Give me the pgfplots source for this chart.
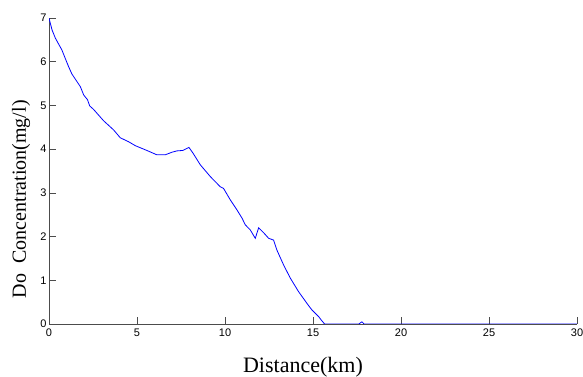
\documentclass[border=0pt]{standalone}
\usepackage{fontspec}
\setmainfont{Liberation Serif}
\newfontfamily\arial{Liberation Sans}
\usepackage{pgfplots}
\pgfplotsset{compat=1.18}
\begin{document}
\begin{tikzpicture}
\begin{axis}[
  at={(0,0)}, anchor=south west,
  scale only axis, width=528pt, height=306pt,
  xmin=0, xmax=30, ymin=0, ymax=7,
  axis lines*=left,
  axis line style={-, draw=black!70, line width=0.8pt},
  xtick={0,5,...,30}, ytick={0,1,...,7},
  tick align=inside,
  major tick length=7pt,
  tick style={black!70, line width=0.6pt},
  /pgf/number format/assume math mode=true,
  tick label style={font=\arial\fontsize{11}{12}\selectfont, text=black},
  xticklabel style={yshift=-1pt},
  yticklabel style={xshift=1pt},
  xlabel={Distance(km)},
  ylabel={Do\ \ Concentration(mg/l)},
  xlabel style={at={(axis description cs:0.481,0)}, anchor=base, yshift=-48.3pt, font=\fontsize{22}{24}\selectfont},
  ylabel style={at={(axis description cs:0,0.408)}, anchor=base, rotate=0, yshift=23pt, font=\fontsize{20}{24}\selectfont},
]
\addplot[blue, line width=0.8pt] coordinates {
(0,7) (0.17,6.73) (0.36,6.54) (0.73,6.27) (1.11,5.89) (1.3,5.72) (1.78,5.43)
(1.97,5.24) (2.19,5.13) (2.31,4.99) (2.53,4.91) (3.1,4.65) (3.67,4.44)
(4.05,4.26) (4.52,4.17) (4.9,4.08) (5.56,3.97) (6.13,3.87) (6.6,3.87)
(6.99,3.93) (7.27,3.96) (7.61,3.97) (7.95,4.04) (8.18,3.91) (8.6,3.64)
(9.17,3.37) (9.73,3.14) (9.92,3.1) (10.3,2.84) (10.68,2.61) (10.97,2.42)
(11.15,2.27) (11.44,2.15) (11.72,1.96) (11.91,2.2) (12.19,2.09) (12.48,1.96)
(12.76,1.92) (12.95,1.69) (13.33,1.35) (13.71,1.05) (14.18,0.74) (14.66,0.47)
(14.94,0.32) (15.32,0.17) (15.47,0.09) (15.66,0) (17.6,0) (17.78,0.05)
(17.9,0) (30,0)
};
\end{axis}
\pgfresetboundingbox
\path[use as bounding box] (-49pt,-53pt) rectangle (534pt,324pt);
\end{tikzpicture}
\end{document}
